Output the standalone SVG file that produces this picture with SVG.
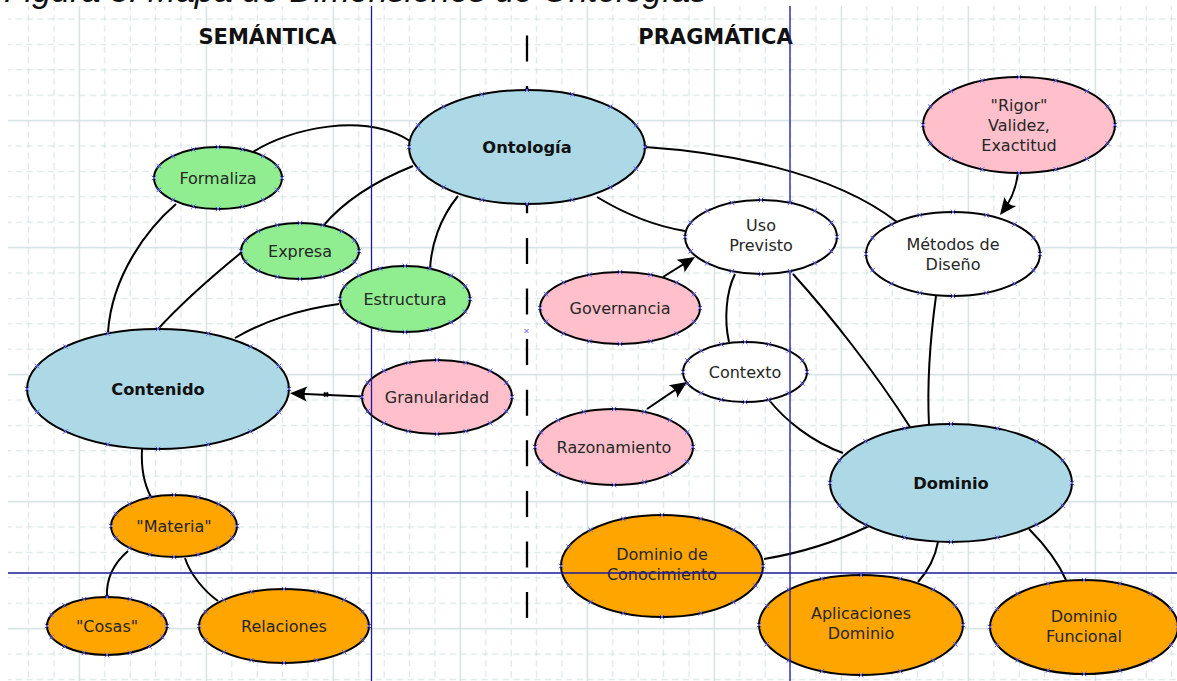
<svg xmlns="http://www.w3.org/2000/svg" width="1177" height="681" viewBox="0 0 1177 681">
  <defs>
    <style>
      .n ellipse { stroke: #000; stroke-width: 2; }
      .lb { fill: #add8e6; } .gr { fill: #90ee90; } .pk { fill: #ffc0cb; } .or { fill: #ffa500; } .wh { fill: #fff; }
      .l { font-family: "DejaVu Sans", "Noto Sans", sans-serif; font-size: 16px; fill: #262626; text-anchor: middle; }
      .b { font-weight: bold; font-size: 16.3px; fill: #111; }
      .hd { font-family: "DejaVu Sans", "Noto Sans", sans-serif; font-size: 21px; font-weight: bold; fill: #111; text-anchor: middle; }
      .c path { fill: none; stroke: #000; stroke-width: 2; }
      .c path.a { marker-end: url(#ah); }
      .pts { fill: none; stroke: none; marker-start: url(#x); marker-mid: url(#x); marker-end: url(#x); }
      .xm { fill: none; stroke: #5a5af0; stroke-width: 1; }
    </style>
    <pattern id="grid" x="15.8" y="57.2" width="127" height="127" patternUnits="userSpaceOnUse">
      <path d="M12.7,0V127M38.1,0V127M88.9,0V127M114.3,0V127M0,12.7H127M0,38.1H127M0,88.9H127M0,114.3H127" fill="none" stroke="#d4e1e1" stroke-width="1" stroke-dasharray="6.35,4.23"/>
      <path d="M63.5,0V127M0,63.5H127" fill="none" stroke="#d2dfdf" stroke-width="1.4"/>
    </pattern>
    <marker id="x" viewBox="-3 -3 6 6" refX="0" refY="0" markerWidth="6" markerHeight="6" markerUnits="userSpaceOnUse">
      <path d="M-2.3,-2.3L2.3,2.3M-2.3,2.3L2.3,-2.3" fill="none" stroke="#5a5af0" stroke-width="1"/>
    </marker>
    <marker id="ah" viewBox="-14 -9 20 18" refX="0" refY="0" markerWidth="20" markerHeight="18" markerUnits="userSpaceOnUse" orient="auto">
      <path d="M4,0 L-13,-7.5 Q-8,0 -13,7.5 Z" fill="#000"/>
    </marker>
  </defs>

  <!-- page and grid -->
  <rect width="1177" height="681" fill="#fff"/>
  <rect x="8" y="6" width="1169" height="675" fill="url(#grid)"/>

  <!-- caption (clipped at the top edge) -->
  <text x="4" y="2" font-family="Liberation Sans, Arial, sans-serif" font-style="italic" font-size="34" fill="#111">Figura 3. Mapa de Dimensiones de Ontologías</text>

  <!-- section headings -->
  <text class="hd" x="267.5" y="44">SEMÁNTICA</text>
  <text class="hd" x="715.5" y="44">PRAGMÁTICA</text>

  <!-- divider between semantics and pragmatics -->
  <path d="M527,35.5V619" stroke="#000" stroke-width="2.3" stroke-dasharray="26,24.6" fill="none"/>
  <path class="xm" d="M524.5,329l4,4m0,-4l-4,4"/>

  <!-- connectors -->
  <g id="connectors" class="c">
    <path d="M253,152 C290,128 365,112 410,141"/>
    <path d="M413,166 C378,180 345,200 323,226"/>
    <path d="M458,196 C440,218 431,245 430,270"/>
    <path d="M176,204 C148,228 112,275 108,332"/>
    <path d="M242,252 C210,278 180,305 158,329"/>
    <path d="M339,304 C300,309 262,322 235,338"/>
    <path d="M142,449 C141,468 144,484 151,497"/>
    <path d="M128,551 C113,564 106,580 107,597"/>
    <path d="M185,558 C190,574 204,591 218,601"/>
    <path class="a" d="M362,396.5 L294,393.5"/>
    <path d="M597,197 C625,214 655,226 685,231"/>
    <path d="M645,147 C720,152 830,170 897,222"/>
    <path class="a" d="M663,277 L691.6,259.1"/>
    <path class="a" d="M647,409 L683.7,384.2"/>
    <path d="M735,274 C726,292 724,320 729,342"/>
    <path d="M793,274 C830,315 875,372 910,427"/>
    <path d="M769,400 C785,420 812,442 843,453"/>
    <path d="M936,296 C930,340 927,385 929,425"/>
    <path class="a" d="M1018,173 C1016,189 1010,202 1002.4,211.8"/>
    <path d="M764,559 C800,553 838,541 869,526"/>
    <path d="M938,542 C935,558 928,571 918,582"/>
    <path d="M1029,529 C1045,545 1058,562 1066,580"/>
    <path class="xm" d="M324,392.5l4,4m0,-4l-4,4"/>
  </g>

  <!-- nodes -->
  <g id="ontologia" class="n">
    <ellipse class="lb" cx="527" cy="147" rx="118" ry="57"/>
    <text class="l b" x="527" y="153">Ontología</text>
    <path class="pts" d="M645,147L636,168.8L610.4,187.3L572.2,199.7L527,204L481.8,199.7L443.6,187.3L418,168.8L409,147L418,125.2L443.6,106.7L481.8,94.3L527,90L572.2,94.3L610.4,106.7L636,125.2"/>
  </g>
  <g id="formaliza" class="n">
    <ellipse class="gr" cx="218" cy="178" rx="64" ry="31"/>
    <text class="l" x="218" y="184">Formaliza</text>
    <path class="pts" d="M282,178L277.1,189.9L263.2,199.9L242.5,206.6L218,209L193.5,206.6L172.8,199.9L158.9,189.9L154,178L158.9,166.1L172.8,156.1L193.5,149.4L218,147L242.5,149.4L263.2,156.1L277.1,166.1"/>
  </g>
  <g id="expresa" class="n">
    <ellipse class="gr" cx="300" cy="251" rx="59" ry="28"/>
    <text class="l" x="300" y="257">Expresa</text>
    <path class="pts" d="M359,251L354.5,261.7L341.7,270.8L322.6,276.9L300,279L277.4,276.9L258.3,270.8L245.5,261.7L241,251L245.5,240.3L258.3,231.2L277.4,225.1L300,223L322.6,225.1L341.7,231.2L354.5,240.3"/>
  </g>
  <g id="contenido" class="n">
    <ellipse class="lb" cx="158" cy="389" rx="131" ry="60"/>
    <text class="l b" x="158" y="395">Contenido</text>
    <path class="pts" d="M289,389L279,412L250.6,431.4L208.2,444.4L158,449L107.8,444.4L65.4,431.4L37,412L27,389L37,366L65.4,346.6L107.8,333.6L158,329L208.2,333.6L250.6,346.6L279,366"/>
  </g>
  <g id="granularidad" class="n">
    <ellipse class="pk" cx="437" cy="397" rx="75" ry="37"/>
    <text class="l" x="437" y="403">Granularidad</text>
    <path class="pts" d="M512,397L506.3,411.2L490,423.2L465.7,431.2L437,434L408.3,431.2L384,423.2L367.7,411.2L362,397L367.7,382.8L384,370.8L408.3,362.8L437,360L465.7,362.8L490,370.8L506.3,382.8"/>
  </g>
  <g id="materia" class="n">
    <ellipse class="or" cx="174" cy="526" rx="63" ry="31"/>
    <text class="l" x="174" y="532">"Materia"</text>
    <path class="pts" d="M237,526L232.2,537.9L218.5,547.9L198.1,554.6L174,557L149.9,554.6L129.5,547.9L115.8,537.9L111,526L115.8,514.1L129.5,504.1L149.9,497.4L174,495L198.1,497.4L218.5,504.1L232.2,514.1"/>
  </g>
  <g id="cosas" class="n">
    <ellipse class="or" cx="107" cy="626" rx="60" ry="29"/>
    <text class="l" x="107" y="632">"Cosas"</text>
    <path class="pts" d="M167,626L162.4,637.1L149.4,646.5L130,652.8L107,655L84,652.8L64.6,646.5L51.6,637.1L47,626L51.6,614.9L64.6,605.5L84,599.2L107,597L130,599.2L149.4,605.5L162.4,614.9"/>
  </g>
  <g id="relaciones" class="n">
    <ellipse class="or" cx="284" cy="626" rx="85" ry="37"/>
    <text class="l" x="284" y="632">Relaciones</text>
    <path class="pts" d="M369,626L362.5,640.2L344.1,652.2L316.6,660.2L284,663L251.4,660.2L223.9,652.2L205.5,640.2L199,626L205.5,611.8L223.9,599.8L251.4,591.8L284,589L316.6,591.8L344.1,599.8L362.5,611.8"/>
  </g>
  <g id="governancia" class="n">
    <ellipse class="pk" cx="620" cy="308" rx="80" ry="36"/>
    <text class="l" x="620" y="314">Governancia</text>
    <path class="pts" d="M700,308L693.9,321.8L676.6,333.5L650.6,341.3L620,344L589.4,341.3L563.4,333.5L546.1,321.8L540,308L546.1,294.2L563.4,282.5L589.4,274.7L620,272L650.6,274.7L676.6,282.5L693.9,294.2"/>
  </g>
  <g id="contexto" class="n">
    <ellipse class="wh" cx="745" cy="372" rx="62" ry="30"/>
    <text class="l" x="745" y="378">Contexto</text>
    <path class="pts" d="M807,372L802.3,383.5L788.8,393.2L768.7,399.7L745,402L721.3,399.7L701.2,393.2L687.7,383.5L683,372L687.7,360.5L701.2,350.8L721.3,344.3L745,342L768.7,344.3L788.8,350.8L802.3,360.5"/>
  </g>
  <g id="razonamiento" class="n">
    <ellipse class="pk" cx="614" cy="447" rx="79" ry="38"/>
    <text class="l" x="614" y="453">Razonamiento</text>
    <path class="pts" d="M693,447L687,461.6L669.9,473.9L644.3,482.1L614,485L583.7,482.1L558.1,473.9L541,461.6L535,447L541,432.4L558.1,420.1L583.7,411.9L614,409L644.3,411.9L669.9,420.1L687,432.4"/>
  </g>
  <g id="rigor" class="n">
    <ellipse class="pk" cx="1019" cy="125" rx="96" ry="48"/>
    <text class="l" x="1019" y="110.7">"Rigor"</text>
    <text class="l" x="1019" y="130.7">Validez,</text>
    <text class="l" x="1019" y="150.5">Exactitud</text>
    <path class="pts" d="M1115,125L1107.7,143.4L1086.9,158.9L1055.8,169.4L1019,173L982.2,169.4L951.1,158.9L930.3,143.4L923,125L930.3,106.6L951.1,91.1L982.2,80.6L1019,77L1055.8,80.6L1086.9,91.1L1107.7,106.6"/>
  </g>
  <g id="metodos" class="n">
    <ellipse class="wh" cx="953" cy="254" rx="87" ry="42"/>
    <text class="l" x="953" y="250">Métodos de</text>
    <text class="l" x="953" y="270">Diseño</text>
    <path class="pts" d="M1040,254L1033.4,270.1L1014.5,283.7L986.3,292.8L953,296L919.7,292.8L891.5,283.7L872.6,270.1L866,254L872.6,237.9L891.5,224.3L919.7,215.2L953,212L986.3,215.2L1014.5,224.3L1033.4,237.9"/>
  </g>
  <g id="dominio" class="n">
    <ellipse class="lb" cx="951" cy="483" rx="121" ry="59"/>
    <text class="l b" x="951" y="489">Dominio</text>
    <path class="pts" d="M1072,483L1062.8,505.6L1036.5,524.7L997.3,537.5L951,542L904.7,537.5L865.5,524.7L839.2,505.6L830,483L839.2,460.4L865.5,441.3L904.7,428.5L951,424L997.3,428.5L1036.5,441.3L1062.8,460.4"/>
  </g>
  <g id="dominio-conocimiento" class="n">
    <ellipse class="or" cx="662" cy="566" rx="101" ry="51"/>
    <text class="l" x="662" y="560">Dominio de</text>
    <text class="l" x="662" y="580">Conocimiento</text>
    <path class="pts" d="M763,566L755.3,585.5L733.4,602.1L700.7,613.1L662,617L623.3,613.1L590.6,602.1L568.7,585.5L561,566L568.7,546.5L590.6,529.9L623.3,518.9L662,515L700.7,518.9L733.4,529.9L755.3,546.5"/>
  </g>
  <g id="aplicaciones" class="n">
    <ellipse class="or" cx="861" cy="625" rx="102" ry="50"/>
    <text class="l" x="861" y="619">Aplicaciones</text>
    <text class="l" x="861" y="639">Dominio</text>
    <path class="pts" d="M963,625L955.2,644.2L933.1,660.4L900.1,671.2L861,675L821.9,671.2L788.9,660.4L766.8,644.2L759,625L766.8,605.8L788.9,589.6L821.9,578.8L861,575L900.1,578.8L933.1,589.6L955.2,605.8"/>
  </g>
  <g id="dominio-funcional" class="n">
    <ellipse class="or" cx="1084" cy="627" rx="94" ry="47"/>
    <text class="l" x="1084" y="621.7">Dominio</text>
    <text class="l" x="1084" y="641.7">Funcional</text>
    <path class="pts" d="M1178,627L1170.9,645L1150.5,660.2L1120,670.4L1084,674L1048,670.4L1017.5,660.2L997.1,645L990,627L997.1,609L1017.5,593.8L1048,583.6L1084,580L1120,583.6L1150.5,593.8L1170.9,609"/>
  </g>

  <!-- blue guide lines -->
  <path d="M371.5,6V681M790,6V681M8,573H1177" fill="none" stroke="#1a1a9a" stroke-width="1.3"/>

  <g id="estructura" class="n">
    <ellipse class="gr" cx="405" cy="299" rx="65" ry="33"/>
    <text class="l" x="405" y="305">Estructura</text>
    <path class="pts" d="M470,299L465.1,311.6L451,322.3L429.9,329.5L405,332L380.1,329.5L359,322.3L344.9,311.6L340,299L344.9,286.4L359,275.7L380.1,268.5L405,266L429.9,268.5L451,275.7L465.1,286.4"/>
  </g>
  <g id="uso-previsto" class="n">
    <ellipse class="wh" cx="761" cy="237" rx="76" ry="37"/>
    <text class="l" x="761" y="230.7">Uso</text>
    <text class="l" x="761" y="250.7">Previsto</text>
    <path class="pts" d="M837,237L831.2,251.2L814.7,263.2L790.1,271.2L761,274L731.9,271.2L707.3,263.2L690.8,251.2L685,237L690.8,222.8L707.3,210.8L731.9,202.8L761,200L790.1,202.8L814.7,210.8L831.2,222.8"/>
  </g>
</svg>
